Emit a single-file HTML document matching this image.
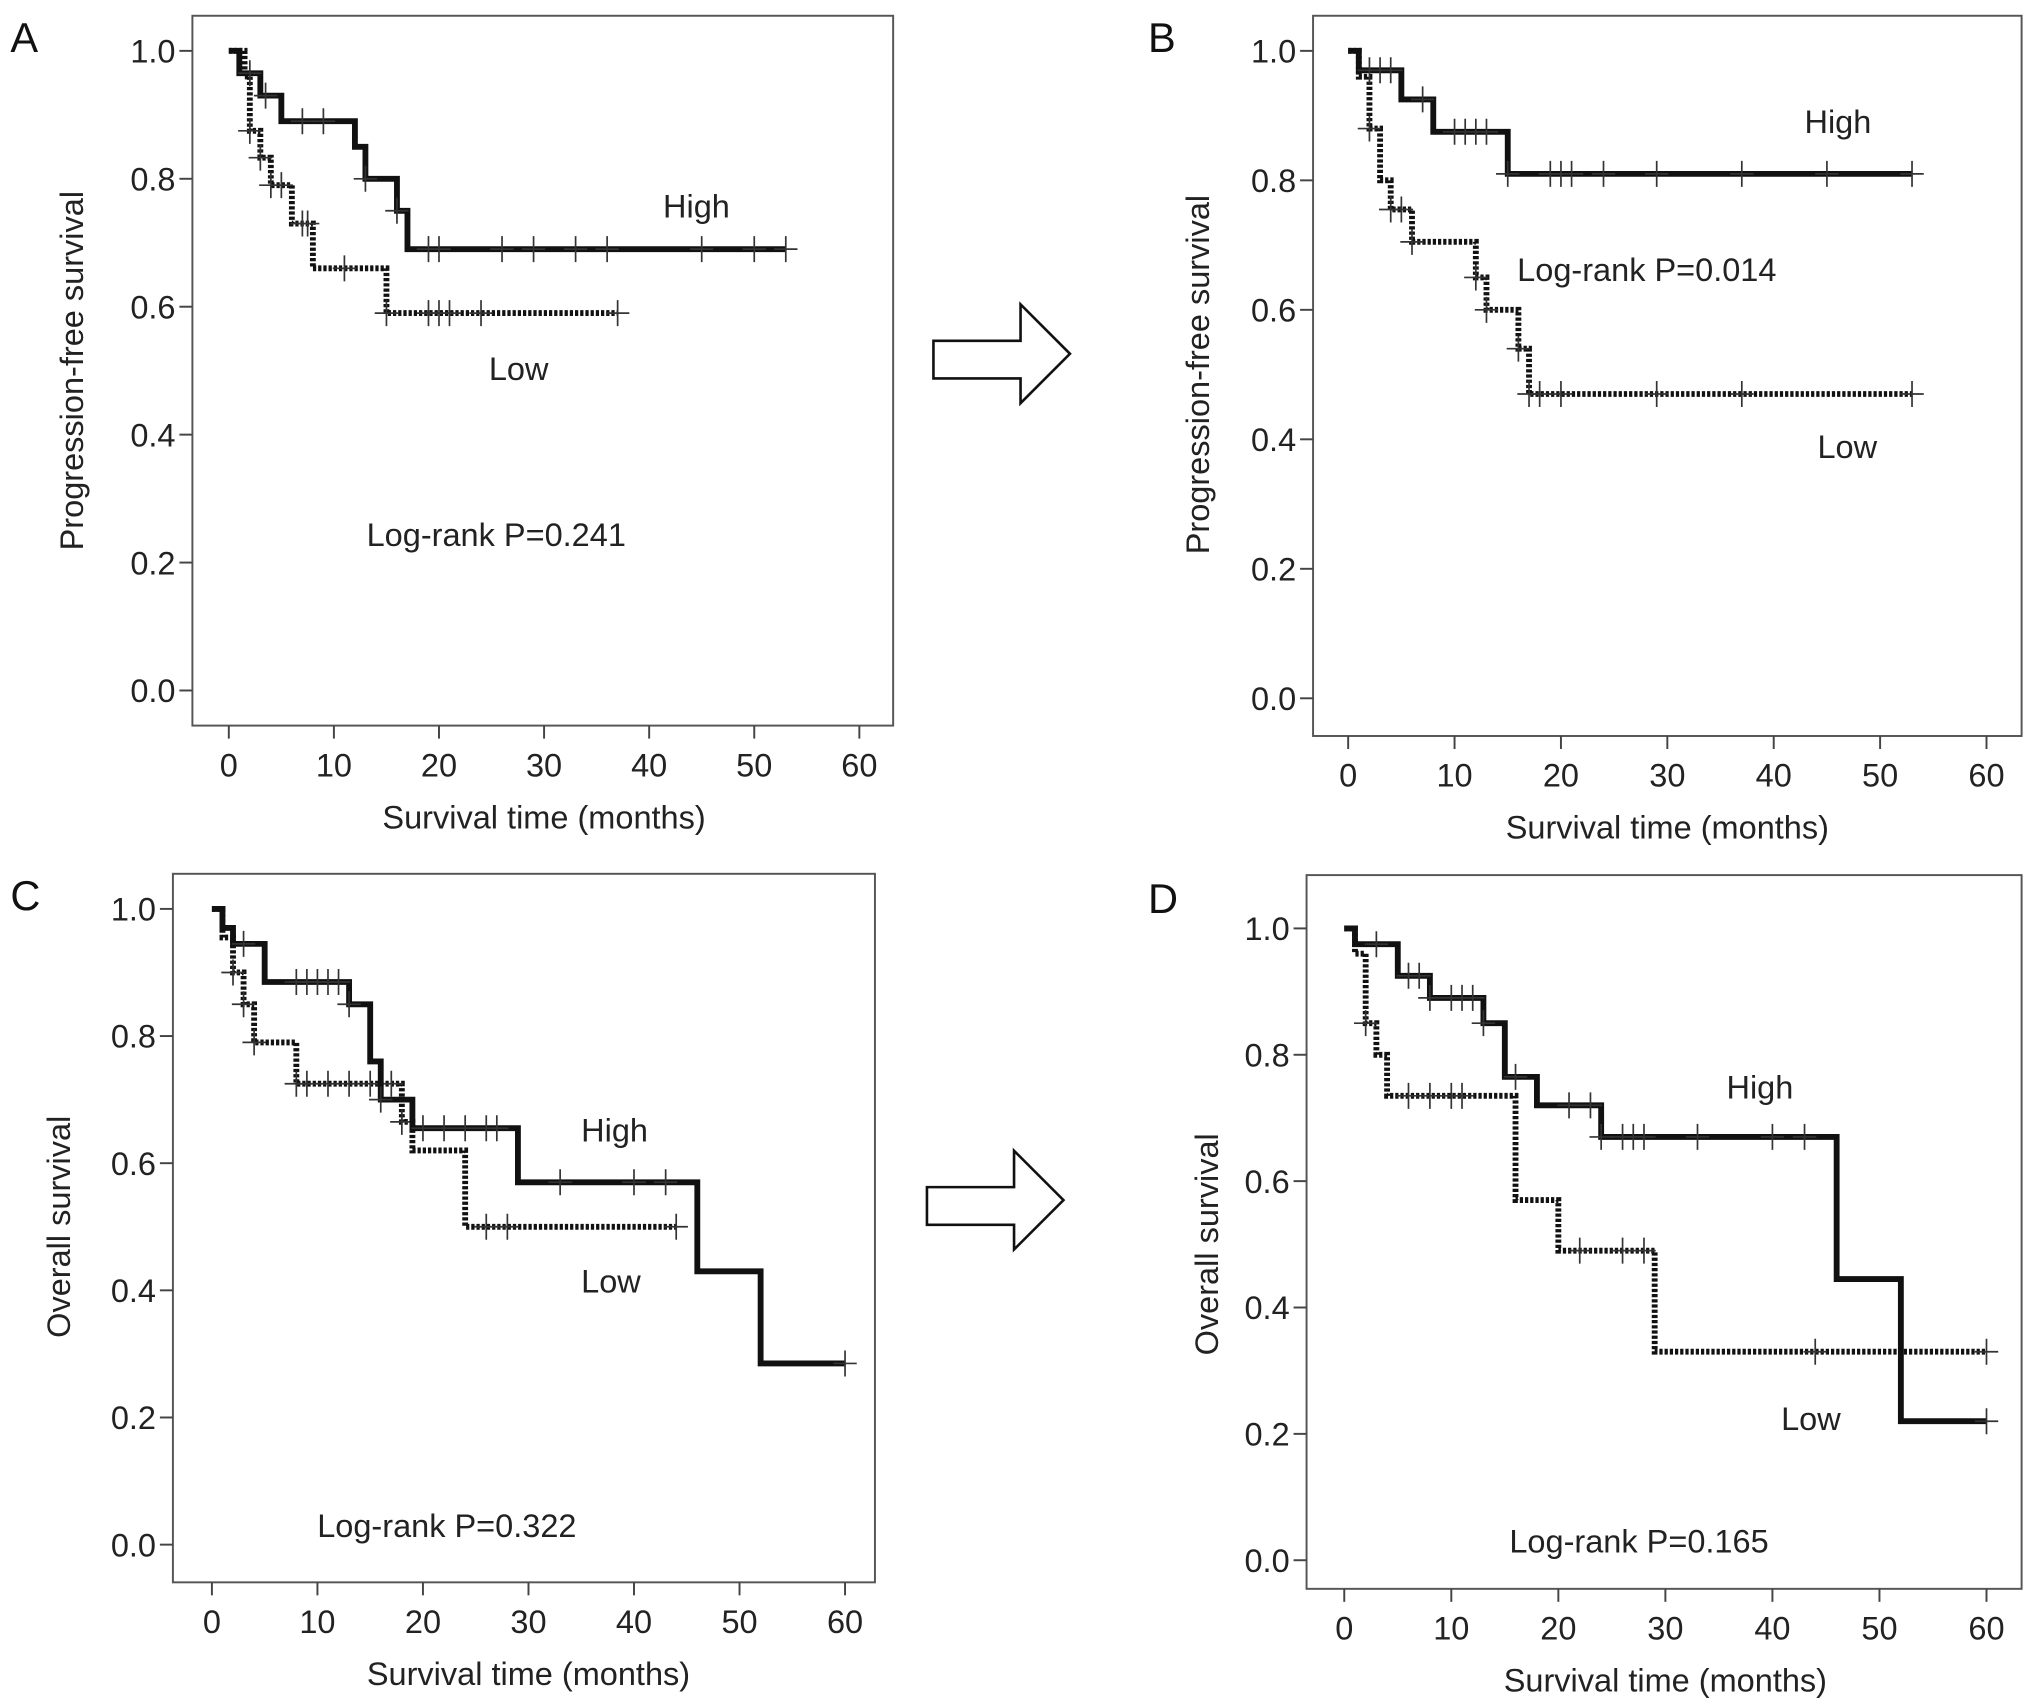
<!DOCTYPE html>
<html><head><meta charset="utf-8"><style>
html,body{margin:0;padding:0;background:#fff;}
svg{display:block;font-family:"Liberation Sans",sans-serif;}
</style></head><body>
<svg id="fig" width="2032" height="1706" viewBox="0 0 1563 1312" xmlns="http://www.w3.org/2000/svg"></svg>
<script>
const xTicks = [0,10,20,30,40,50,60];
const yTicks = [0.0,0.2,0.4,0.6,0.8,1.0];
const yTickLabels = ["0.0","0.2","0.4","0.6","0.8","1.0"];

const aHighSteps = [[0,1],[1,0.965],[3,0.93],[5,0.89],[12,0.85],[13,0.80],[16,0.75],[17,0.69]];
const aHighEnd = 53;
const aHighCens = [2,3.5,7,9,13,16,19,20,26,29,33,36,45,50,53];
const aLowSteps = [[0,1],[1.5,0.96],[2,0.875],[3,0.833],[4,0.79],[6,0.73],[8,0.66],[15,0.59]];
const aLowEnd = 37;
const aLowCens = [2,3,4,5,7,7.5,11,15,19,20,21,24,37];

const bHighSteps = [[0,1],[1,0.97],[5,0.925],[8,0.875],[15,0.81]];
const bHighEnd = 53;
const bHighCens = [2,3,4,7,10,11,12,13,15,19,20,21,24,29,37,45,53];
const bLowSteps = [[0,1],[1,0.96],[2,0.88],[3,0.80],[4,0.755],[6,0.705],[12,0.65],[13,0.60],[16,0.54],[17,0.47]];
const bLowEnd = 53;
const bLowCens = [2,4,5,6,12,13,16,17,18,20,29,37,53];

const cHighSteps = [[0,1],[1,0.97],[2,0.945],[5,0.885],[13,0.85],[15,0.76],[16,0.70],[19,0.655],[29,0.57],[46,0.43],[52,0.285]];
const cHighEnd = 60;
const cHighCens = [3,8,9,10,11,12,13,16,20,22,24,26,27,33,40,43,60];
const cLowSteps = [[0,1],[1,0.955],[2,0.90],[3,0.85],[4,0.79],[8,0.725],[18,0.665],[19,0.62],[24,0.50]];
const cLowEnd = 44;
const cLowCens = [2,3,4,8,9,11,13,15,17,18,26,28,44];

const dHighSteps = [[0,1],[1,0.975],[5,0.925],[8,0.89],[13,0.85],[15,0.765],[18,0.72],[24,0.67],[46,0.445],[52,0.22]];
const dHighEnd = 60;
const dHighCens = [3,6,7,8,10,11,12,13,16,21,23,24,26,27,28,33,40,43,60];
const dLowSteps = [[0,1],[1,0.96],[2,0.85],[3,0.80],[4,0.735],[16,0.57],[20,0.49],[29,0.33]];
const dLowEnd = 60;
const dLowCens = [2,6,8,10,11,22,26,28,44,60];

const NS="http://www.w3.org/2000/svg";
const svg=document.getElementById('fig');
function mk(tag,attrs,parent){const e=document.createElementNS(NS,tag);for(const k in attrs)e.setAttribute(k,attrs[k]);(parent||svg).appendChild(e);return e;}
function txt(s,attrs,parent){const e=mk('text',attrs,parent);e.textContent=s;return e;}

const panels=[
 {id:'a',letter:'A',lx:8,ly:40,box:[148,12,687,558],x0:176,x60:661,y1:39,y0:531,ytitle:'Progression-free survival',ytx:64,
  hs:aHighSteps,he:aHighEnd,hc:aHighCens,ls:aLowSteps,le:aLowEnd,lc:aLowCens,
  hi:[510,167],lo:[376,292],lr:[282,420,'Log-rank P=0.241'],xt:602},
 {id:'b',letter:'B',lx:883,ly:40,box:[1010,12,1555,566],x0:1037,x60:1528,y1:39,y0:537,ytitle:'Progression-free survival',ytx:930,
  hs:bHighSteps,he:bHighEnd,hc:bHighCens,ls:bLowSteps,le:bLowEnd,lc:bLowCens,
  hi:[1388,102],lo:[1398,352],lr:[1167,216,'Log-rank P=0.014'],xt:612},
 {id:'c',letter:'C',lx:8,ly:700,box:[133,672,673,1217],x0:163,x60:650,y1:699,y0:1188,ytitle:'Overall survival',ytx:54,
  hs:cHighSteps,he:cHighEnd,hc:cHighCens,ls:cLowSteps,le:cLowEnd,lc:cLowCens,
  hi:[447,878],lo:[447,994],lr:[244,1182,'Log-rank P=0.322'],xt:1262},
 {id:'d',letter:'D',lx:883,ly:702,box:[1005,673,1555,1222],x0:1034,x60:1528,y1:714,y0:1200,ytitle:'Overall survival',ytx:937,
  hs:dHighSteps,he:dHighEnd,hc:dHighCens,ls:dLowSteps,le:dLowEnd,lc:dLowCens,
  hi:[1328,845],lo:[1370,1100],lr:[1161,1194,'Log-rank P=0.165'],xt:1268}
];

function stepAt(steps,t){let v=steps[0][1];for(const s of steps){if(s[0]<=t)v=s[1];}return v;}

panels.forEach(p=>{
  const g=mk('g',{});
  
  
  const X=t=>p.x0+(p.x60-p.x0)*t/60;
  const Y=v=>p.y0+(p.y1-p.y0)*v;
  const [bx1,by1,bx2,by2]=p.box;
  const l=txt(p.letter,{x:p.lx,y:p.ly,'font-size':32,fill:'#111'},g);
  
  
  const fr=mk('rect',{x:bx1,y:by1,width:bx2-bx1,height:by2-by1,fill:'none',stroke:'#555','stroke-width':1.5},g);
  
  
  xTicks.forEach(t=>{
    mk('line',{x1:X(t),x2:X(t),y1:by2,y2:by2+10,stroke:'#444','stroke-width':1.5},g);
    const e=txt(String(t),{x:X(t),y:by2+39,'font-size':25,'text-anchor':'middle',fill:'#222'},g);
    
    
  });
  yTicks.forEach((v,i)=>{
    mk('line',{x1:bx1-10,x2:bx1,y1:Y(v),y2:Y(v),stroke:'#444','stroke-width':1.5},g);
    const e=txt(yTickLabels[i],{x:bx1-13,y:Y(v)+9,'font-size':25,'text-anchor':'end',fill:'#222'},g);
    
    
  });
  const xtl=txt('Survival time (months)',{x:(X(0)+X(60))/2,y:by2+79,'font-size':25,'text-anchor':'middle',fill:'#222'},g);
  
  
  const cy=(Y(0)+Y(1))/2;
  const ytl=txt(p.ytitle,{x:p.ytx,y:cy,'font-size':25,'text-anchor':'middle',fill:'#222',transform:`rotate(-90 ${p.ytx} ${cy})`},g);
  
  

  function curve(steps,end,cens,dashed,name){
    let d=`M${X(steps[0][0])},${Y(steps[0][1])}`;
    for(let i=1;i<steps.length;i++){d+=` H${X(steps[i][0])} V${Y(steps[i][1])}`;}
    d+=` H${X(end)}`;
    const attrs={d:d,fill:'none',stroke:'#111','stroke-width':4.5,'stroke-linejoin':'miter'};
    if(dashed)attrs['stroke-dasharray']='2.5 1.5';
    const path=mk('path',attrs,g);
    
    
    cens.forEach(t=>{
      const v=stepAt(steps,t);
      const c=mk('path',{d:`M${X(t)},${Y(v)-10} V${Y(v)+10} M${X(t)-9},${Y(v)} H${X(t)+9}`,stroke:'#333','stroke-width':1.3,fill:'none'},g);
      
      
    });
  }
  curve(p.ls,p.le,p.lc,true,'low');
  curve(p.hs,p.he,p.hc,false,'high');
  const h=txt('High',{x:p.hi[0],y:p.hi[1],'font-size':25,fill:'#222'},g);
  
  
  const lo=txt('Low',{x:p.lo[0],y:p.lo[1],'font-size':25,fill:'#222'},g);
  
  
  const lr=txt(p.lr[2],{x:p.lr[0],y:p.lr[1],'font-size':25,fill:'#222'},g);
  
  
});

function arrow(x,y,name){
  const a=mk('path',{d:`M${x},${y+28} H${x+67} V${y} L${x+105},${y+38} L${x+67},${y+76} V${y+57} H${x} Z`,fill:'#fff',stroke:'#111','stroke-width':2});
  
  
}
arrow(718,234,'arrow-a-to-b');
arrow(713,885,'arrow-c-to-d');
</script>
</body></html>
